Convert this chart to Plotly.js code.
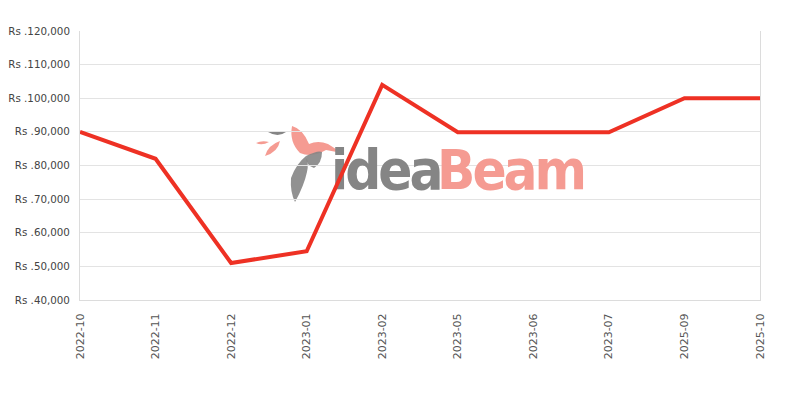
<!DOCTYPE html>
<html>
<head>
<meta charset="utf-8">
<script src="https://cdn.plot.ly/plotly-3.0.1.min.js"></script>
<style>
html,body{margin:0;padding:0;background:#fff;}
#chart{width:800px;height:400px;}
.textpoint text{letter-spacing:-3px;}
</style>
</head>
<body>
<div id="chart"></div>
<script>
// Data
var categories = ["2022-10","2022-11","2022-12","2023-01","2023-02","2023-05","2023-06","2023-07","2025-09","2025-10"];
var prices = [90000, 82000, 51000, 54500, 104000, 89900, 89900, 89900, 100000, 100000];
var yTicks = [40000, 50000, 60000, 70000, 80000, 90000, 100000, 110000, 120000];
var yTickLabels = ["Rs .40,000","Rs .50,000","Rs .60,000","Rs .70,000","Rs .80,000","Rs .90,000","Rs .100,000","Rs .110,000","Rs .120,000"];

var idx = categories.map(function(_, i){ return i; });

// Plot area in pixels (for logo decoration)
var L = 80, R = 760, T = 31, B = 300;
function px(x){ return ((x - L) / (R - L)).toFixed(4); }
function py(y){ return ((B - y) / (B - T)).toFixed(4); }
function path(pts){
  return pts.map(function(p){
    if (p.length === 1) return p[0];
    var s = p[0];
    for (var i = 1; i < p.length; i += 2) s += ' ' + px(p[i]) + ',' + py(p[i+1]);
    return s;
  }).join(' ');
}
function dx(pxv){ return (pxv - L) / (R - L) * (categories.length - 1); }
function dy(pyv){ return 40000 + (B - pyv) / (B - T) * 80000; }

var salmon = '#f59b92', gray = '#858585';
var logoShapes = [
  {type:'path', xref:'paper', yref:'paper', layer:'below', fillcolor:salmon, line:{width:0},
   path: path([['M',292,126],['Q',303,129,309,144],['Q',318,140,328,144],['L',342,153],['L',326,150],['Q',312,158,300,153],['Q',289,142,292,126],['Z']])},
  {type:'path', xref:'paper', yref:'paper', layer:'below', fillcolor:salmon, line:{width:0},
   path: path([['M',256,143],['Q',262,140,269,142],['Q',262,146,256,143],['Z']])},
  {type:'path', xref:'paper', yref:'paper', layer:'below', fillcolor:salmon, line:{width:0},
   path: path([['M',265,156],['Q',268,145,280,141],['Q',278,152,265,156],['Z']])},
  {type:'path', xref:'paper', yref:'paper', layer:'below', fillcolor:gray, line:{width:0},
   path: path([['M',268,132],['Q',277,130,286,132],['Q',278,138,268,132],['Z']])},
  {type:'path', xref:'paper', yref:'paper', layer:'below', fillcolor:gray, line:{width:0}, opacity:0.9,
   path: path([['M',306,156],['Q',296,164,291,178],['Q',290,192,295,202],['Q',304,186,307,172],['Q',309,163,306,156],['Z']])},
  {type:'path', xref:'paper', yref:'paper', layer:'below', fillcolor:gray, line:{width:0}, opacity:0.9,
   path: path([['M',306,156],['Q',318,150,322,152],['Q',322,163,314,168],['Q',306,166,306,156],['Z']])}
];

var logoFont = 'DejaVu Sans Condensed, sans-serif';

var traces = [
  {x:[dx(331)], y:[dy(175)], mode:'text', text:['idea'], textposition:'middle right',
   textfont:{family:logoFont, size:56, weight:'bold', color:gray}, hoverinfo:'skip', showlegend:false, cliponaxis:false},
  {x:[dx(437)], y:[dy(175)], mode:'text', text:['Beam'], textposition:'middle right',
   textfont:{family:logoFont, size:56, weight:'bold', color:salmon}, hoverinfo:'skip', showlegend:false, cliponaxis:false},
  {x: idx, y: prices, mode:'lines', line:{color:'#ee3124', width:4}, showlegend:false, cliponaxis:false}
];

var layout = {
  width: 800, height: 400,
  margin: {l: L, r: 800 - R, t: T, b: 400 - B},
  paper_bgcolor: '#ffffff', plot_bgcolor: '#ffffff',
  font: {family: 'DejaVu Sans, sans-serif', size: 11, color: '#444'},
  showlegend: false,
  xaxis: {
    range: [0, categories.length - 1], tickmode: 'array', tickvals: idx, ticktext: categories,
    tickangle: -90, showgrid: false, zeroline: false, showline: true, linecolor: '#dcdcdc', linewidth: 1,
    ticks: '', ticklabelstandoff: 8, fixedrange: true, tickfont: {size: 11, color: '#555'}
  },
  yaxis: {
    range: [40000, 120000], tickmode: 'array', tickvals: yTicks, ticktext: yTickLabels,
    showgrid: true, gridcolor: '#e3e3e3', zeroline: false, showline: true, mirror: true,
    linecolor: '#dcdcdc', linewidth: 1, ticks: '', ticklabelstandoff: 7, fixedrange: true,
    tickfont: {size: 10.3, color: '#444'}
  },
  shapes: logoShapes
};

Plotly.newPlot('chart', traces, layout, {displayModeBar: false, staticPlot: true});
</script>
</body>
</html>
